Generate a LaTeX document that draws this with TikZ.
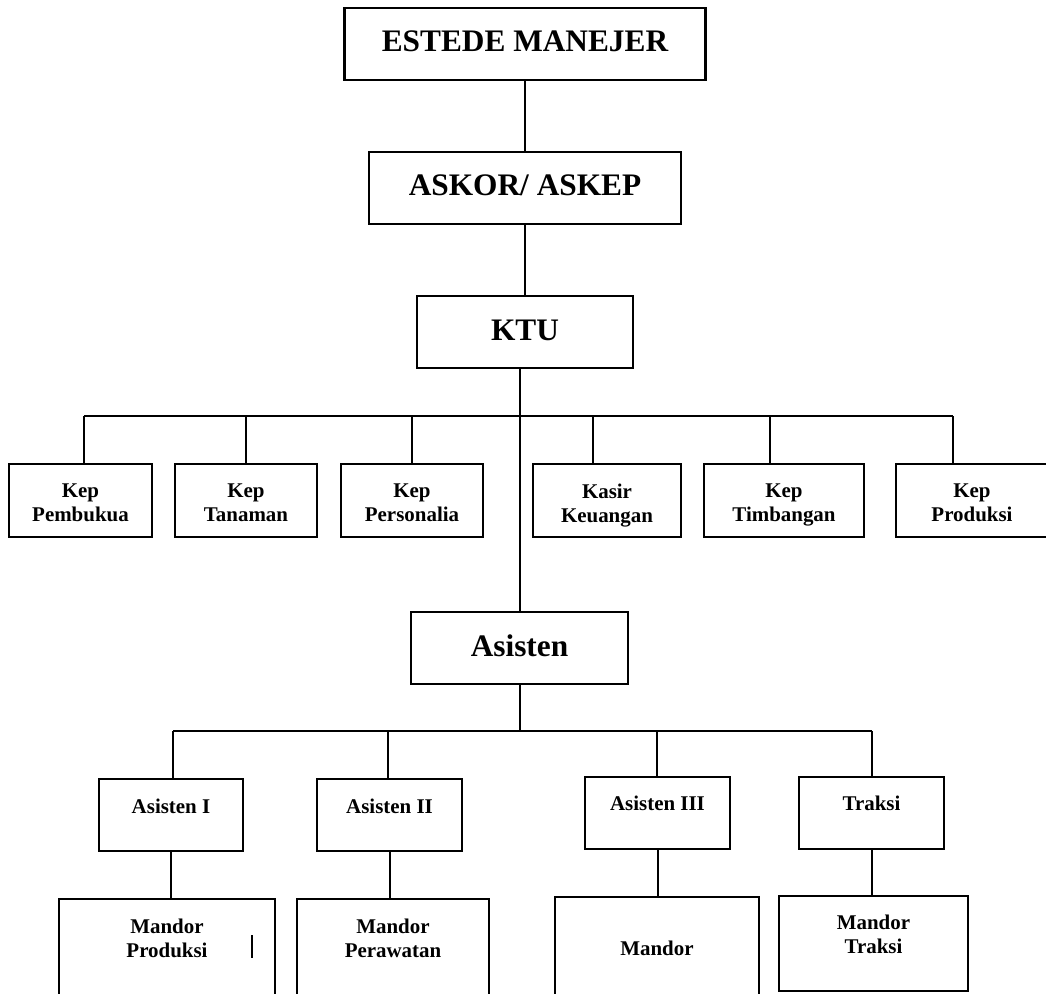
\documentclass[tikz,border=0pt]{standalone}
\usepackage{fontspec}
\setmainfont{Liberation Serif}
\usepackage{tikz}

\tikzset{
  unit/.style={draw, line width=1.6pt, inner sep=0pt},
  wh/.style 2 args={minimum width=#1*0.75pt, minimum height=#2*0.75pt},
  big/.style={font=\fontsize{23.5pt}{27pt}\selectfont\bfseries},
  small/.style={font=\fontsize{15.7pt}{17.6pt}\selectfont\bfseries},
  txt/.style={anchor=north, align=center, inner sep=0pt, yshift=-#1*0.75pt},
  link/.style={line width=1.5pt}
}

\begin{document}
\begin{tikzpicture}[x=0.75pt,y=-0.75pt]
\useasboundingbox (0,0) rectangle (1046,993);
\clip (0,0) rectangle (1046,993);

\node(est)   [unit, wh={361}{72}, label={[big,txt=24]north:ESTEDE MANEJER}] at (525,44)    {};
\node(askor) [unit, wh={312}{72}, label={[big,txt=24]north:ASKOR/ ASKEP}]   at (525,188)   {};
\node(ktu)   [unit, wh={216}{72}, label={[big,txt=25]north:KTU}]            at (525,332)   {};
\node(asis)  [unit, wh={217}{72}, label={[big,txt=24]north:Asisten}]        at (519.5,648) {};

% kepala bagian
\node(k1) [unit, wh={143}{73}, label={[small,txt=21]north:{Kep\\Pembukua}}]   at (80.5,500.5) {};
\node(k2) [unit, wh={142}{73}, label={[small,txt=21]north:{Kep\\Tanaman}}]    at (246,500.5)  {};
\node(k3) [unit, wh={142}{73}, label={[small,txt=21]north:{Kep\\Personalia}}] at (412,500.5)  {};
\node(k4) [unit, wh={148}{73}, label={[small,txt=21]north:{Kasir\\Keuangan}}] at (607,500.5)  {};
\node(k5) [unit, wh={160}{73}, label={[small,txt=21]north:{Kep\\Timbangan}}]  at (784,500.5)  {};
\node(k6) [unit, wh={152}{73}, label={[small,txt=21]north:{Kep\\Produksi}}]   at (972,500.5)  {};

% asisten
\node(a1) [unit, wh={144}{72}, label={[small,txt=21]north:Asisten I}]   at (171,815)   {};
\node(a2) [unit, wh={145}{72}, label={[small,txt=21]north:Asisten II}]  at (389.5,815) {};
\node(a3) [unit, wh={145}{72}, label={[small,txt=20]north:Asisten III}] at (657.5,813) {};
\node(a4) [unit, wh={145}{72}, label={[small,txt=20]north:Traksi}]      at (871.5,813) {};

% mandor
\node(m1) [unit, wh={216}{130}, label={[small,txt=21]north:{Mandor\\Produksi}}]  at (167,964)    {};
\node(m2) [unit, wh={192}{130}, label={[small,txt=21]north:{Mandor\\Perawatan}}] at (393,964)    {};
\node(m3) [unit, wh={204}{130}, label={[small,txt=45]north:Mandor}]              at (657,962)    {};
\node(m4) [unit, wh={189}{95},  label={[small,txt=20]north:{Mandor\\Traksi}}]    at (873.5,943.5) {};

\coordinate(t1) at (84,416);
\coordinate(t2) at (246,416);
\coordinate(t3) at (412,416);
\coordinate(t4) at (593,416);
\coordinate(t5) at (770,416);
\coordinate(t6) at (953,416);
\coordinate(u1) at (173,731);
\coordinate(u2) at (388,731);
\coordinate(u3) at (657,731);
\coordinate(u4) at (872,731);

\draw[link] (est) -- (askor);
\draw[link] (askor) -- (ktu);
\draw[link] (ktu.south -| asis.north) -- (asis.north);
\draw[link] (t1) -- (t6);
\foreach \x in {1,...,6} {
\draw[link] (t\x) -- (t\x |- k\x.north);
}
\draw[link] (asis.south) -- (asis.south |- u1);
\draw[link] (u1) -- (u4);
\foreach \x in {1,...,4} {
\draw[link] (u\x) -- (u\x |- a\x.north);
\draw[link] (a\x.south) -- (a\x.south |- m\x.north);
}
\draw[line width=1.2pt] (252,935) -- (252,958);
\end{tikzpicture}
\end{document}
